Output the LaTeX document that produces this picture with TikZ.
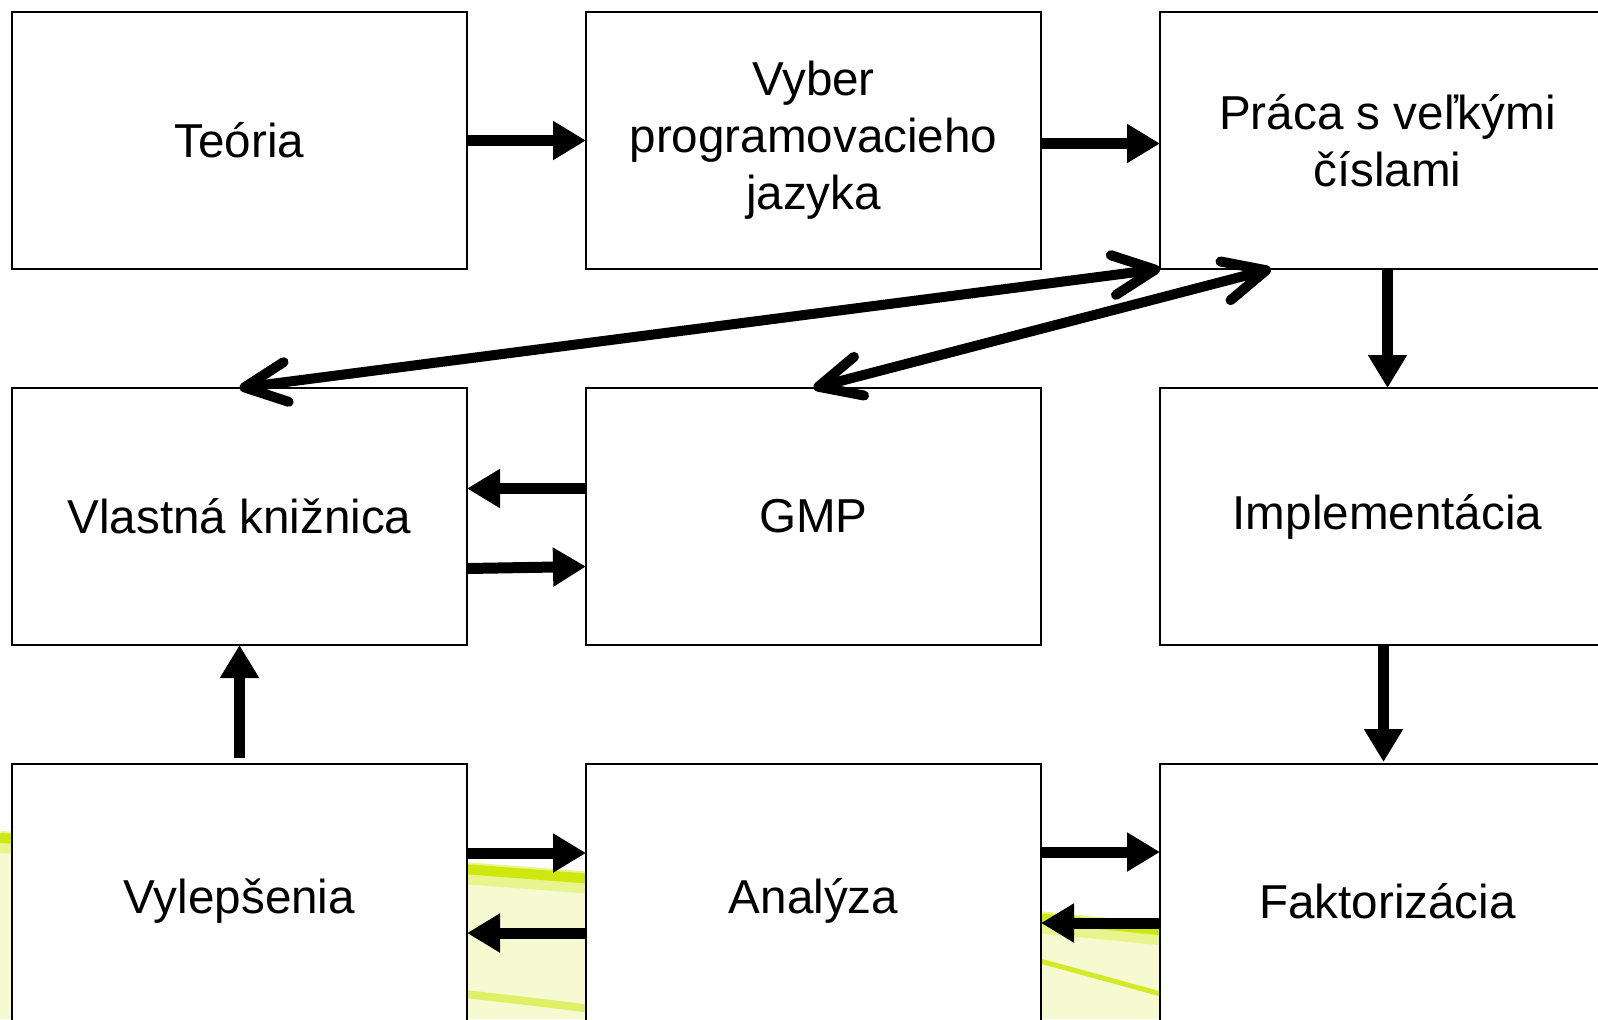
\documentclass[tikz,border=0pt]{standalone}
\usepackage{fontspec}
\setmainfont{Liberation Sans}
\usetikzlibrary{positioning,arrows.meta}
\definecolor{limegreen}{HTML}{CCE600}

\begin{document}
\begin{tikzpicture}[x=0.5pt,y=-0.5pt,node distance=59.5pt,
		box/.style={draw,line width=1pt,fill=white,outer sep=0pt,inner sep=0pt,minimum width=227.5pt,minimum height=128.5pt,align=center,font=\fontsize{23.8pt}{28.5pt}\selectfont},
		flow/.style={line width=5.5pt,-{Triangle[length=16.5pt,width=18.5pt]}},
		both/.style={line width=5pt,{Straight Barb[length=21pt,width=20pt,round]}-{Straight Barb[length=21pt,width=20pt,round]}}]
	\useasboundingbox (0,0) rectangle (1598,1019);
	\fill[white] (0,0) rectangle (1598,1019);
	\fill[limegreen!18] (0,832) .. controls (500,862) and (1000,902) .. (1598,972) -- (1598,1019) -- (0,1019) -- cycle;
	\draw[limegreen!45,line width=11pt] (0,842) .. controls (500,872) and (1000,912) .. (1598,982);
	\draw[limegreen,line width=5pt,opacity=.9] (0,838) .. controls (500,868) and (1000,908) .. (1598,978);
	\draw[limegreen,line width=2.5pt,opacity=.8] (760,880) .. controls (900,925) and (1040,960) .. (1200,1005);
	\draw[limegreen!60,line width=4pt] (380,985) .. controls (480,995) and (560,1005) .. (640,1015);

	\node[box] (teo) at (239.5,140.5) {Teória};
	\node[box,right=of teo] (vyb) {Vyber\\programovacieho\\jazyka};
	\node[box,right=of vyb] (pra) {Práca s veľkými\\číslami};
	\node[box,below=of teo] (vl) {Vlastná knižnica};
	\node[box,right=of vl] (gmp) {GMP};
	\node[box,right=of gmp] (imp) {Implementácia};
	\node[box,below=of vl,minimum height=137pt] (vyl) {Vylepšenia};
	\node[box,right=of vyl,minimum height=137pt] (ana) {Analýza};
	\node[box,right=of ana,minimum height=137pt] (fak) {Faktorizácia};

	\draw[flow] (teo) -- (vyb);
	\draw[flow] ([yshift=-1.5pt]vyb.east) -- ([yshift=-1.5pt]pra.west);
	\draw[flow] (pra) -- (imp);
	\draw[flow] ([xshift=-2pt]imp.south) -- ([xshift=-2pt,yshift=1pt]fak.north);
	\draw[flow] ([yshift=14pt]gmp.west) -- ([yshift=14pt]vl.east);
	\draw[flow] ([yshift=-26pt]vl.east) -- ([yshift=-25pt]gmp.west);
	\draw[flow] ([yshift=3pt]vyl.north) -- (vl.south);
	\draw[flow] ([yshift=24pt]vyl.east) -- ([yshift=24pt]ana.west);
	\draw[flow] ([yshift=-16pt]ana.west) -- ([yshift=-16pt]vyl.east);
	\draw[flow] ([yshift=24.5pt]ana.east) -- ([yshift=24.5pt]fak.west);
	\draw[flow] ([yshift=-11pt]fak.west) -- ([yshift=-11pt]ana.east);
	\draw[both] (vl.north) -- (pra.south west);
	\draw[both] (gmp.north) -- ([xshift=55.5pt]pra.south west);
\end{tikzpicture}
\end{document}
